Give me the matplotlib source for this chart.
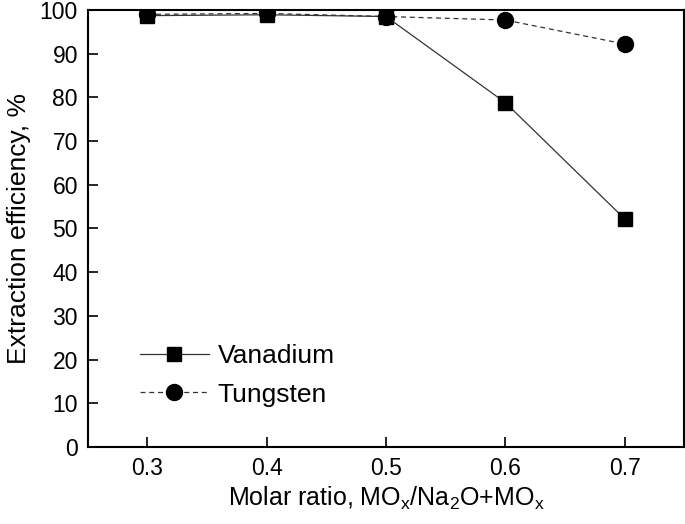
import matplotlib.pyplot as plt

plt.rcParams['font.family'] = ['Liberation Sans', 'DejaVu Sans']

# molar ratio MOx/(Na2O+MOx)
ratio = [0.3, 0.4, 0.5, 0.6, 0.7]
vanadium = [98.7, 98.9, 98.5, 78.8, 52.2]
tungsten = [99.0, 99.2, 98.5, 97.7, 92.2]

fig, ax = plt.subplots(figsize=(6.85, 5.24), dpi=100)
fig.subplots_adjust(left=0.128, right=0.999, top=0.981, bottom=0.147)

ax.plot(ratio, vanadium, color='#333333', lw=0.9, ls='-', marker='s',
        ms=10, mfc='black', mec='black', label='Vanadium')
ax.plot(ratio, tungsten, color='#333333', lw=0.9, ls=(0, (4, 3)), marker='o',
        ms=11.5, mfc='black', mec='black', label='Tungsten')

ax.set_xlim(0.25, 0.75)
ax.set_ylim(0, 100)
ax.set_xticks(ratio)
ax.set_xticklabels(['0.3', '0.4', '0.5', '0.6', '0.7'])
ax.set_yticks(range(0, 101, 10))
ax.tick_params(direction='in', length=7, width=1.2, labelsize=16.5, pad=7)
for s in ax.spines.values():
    s.set_linewidth(1.5)

ax.set_xlabel('Molar ratio, MO$_\\mathregular{x}$/Na$_\\mathregular{2}$O+MO$_\\mathregular{x}$',
              fontsize=18, labelpad=4)
ax.set_ylabel('Extraction efficiency, %', fontsize=19, labelpad=6)

ax.legend(loc='lower left', bbox_to_anchor=(0.07, 0.068), frameon=False,
          fontsize=19, handlelength=2.6, handletextpad=0.35, labelspacing=0.55,
          borderaxespad=0)

fig.savefig('out.png')
